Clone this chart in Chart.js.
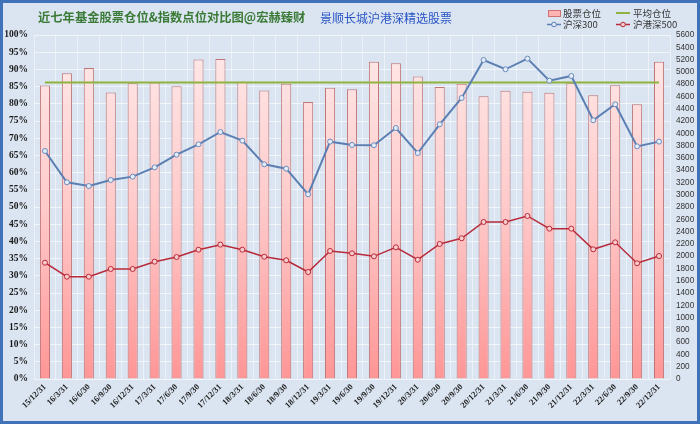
<!DOCTYPE html>
<html><head><meta charset="utf-8">
<script src="https://cdn.jsdelivr.net/npm/chart.js@4/dist/chart.umd.min.js"></script>
<style>html,body{margin:0;padding:0;background:#dbe5f1;overflow:hidden}canvas{display:block}</style>
</head><body>
<canvas id="c" width="700" height="424"></canvas>
<script>
const categories = ['15/12/31','16/3/31','16/6/30','16/9/30','16/12/31','17/3/31','17/6/30','17/9/30','17/12/31','18/3/31','18/6/30','18/9/30','18/12/31','19/3/31','19/6/30','19/9/30','19/12/31','20/3/31','20/6/30','20/9/30','20/12/31','21/3/31','21/6/30','21/9/30','21/12/31','22/3/31','22/6/30','22/9/30','22/12/31'];
const stockPosition = [85.3, 88.9, 90.4, 83.3, 86.0, 86.2, 85.1, 92.9, 93.0, 86.4, 83.9, 85.8, 80.5, 84.7, 84.2, 92.2, 91.8, 87.9, 84.9, 85.8, 82.2, 83.8, 83.5, 83.2, 86.0, 82.5, 85.4, 79.9, 92.2];
const averagePosition = [86.2, 86.2, 86.2, 86.2, 86.2, 86.2, 86.2, 86.2, 86.2, 86.2, 86.2, 86.2, 86.2, 86.2, 86.2, 86.2, 86.2, 86.2, 86.2, 86.2, 86.2, 86.2, 86.2, 86.2, 86.2, 86.2, 86.2, 86.2, 86.2];
const hs300 = [3712, 3202, 3142, 3240, 3294, 3446, 3652, 3821, 4021, 3880, 3495, 3424, 3007, 3864, 3810, 3805, 4086, 3679, 4146, 4575, 5193, 5042, 5215, 4857, 4933, 4212, 4472, 3787, 3864];
const hgs500 = [1893, 1666, 1666, 1791, 1791, 1910, 1986, 2105, 2187, 2105, 1991, 1932, 1742, 2084, 2046, 1997, 2144, 1942, 2198, 2291, 2556, 2556, 2654, 2447, 2447, 2111, 2225, 1884, 2002];
const leftAxis = {min: 0, max: 100, step: 5};
const rightAxis = {min: 0, max: 5600, step: 200};
const mainTitle = '近七年基金股票仓位&指数点位对比图@宏赫臻财';
const subTitle = '景顺长城沪港深精选股票';
const legendLabels = ['股票仓位', '平均仓位', '沪深300', '沪港深500'];

const decor = {
  id: 'decor',
  beforeDraw(chart) {
    const ctx = chart.ctx;
    ctx.save();
    ctx.fillStyle = '#dbe5f1';
    ctx.fillRect(0, 0, chart.width, chart.height);
    ctx.restore();
  },
  afterDraw(chart) {
    const ctx = chart.ctx;
    ctx.save();
    ctx.strokeStyle = '#3f72b8';
    ctx.lineWidth = 3;
    ctx.strokeRect(1.5, 1.5, chart.width - 3, chart.height - 3);
    ctx.textBaseline = 'middle';
    ctx.textAlign = 'left';
    ctx.fillStyle = '#3a7a36';
    ctx.font = 'bold 12.3px "Noto Sans CJK SC"';
    ctx.fillText(mainTitle, 38, 17);
    ctx.fillStyle = '#2a55c4';
    ctx.font = '12px "Noto Sans CJK SC"';
    ctx.fillText(subTitle, 320, 18);
    ctx.font = '9.5px "Noto Sans CJK SC"';
    ctx.fillStyle = '#ffb4b4';
    ctx.fillRect(548, 10, 12, 6);
    ctx.strokeStyle = '#d07070';
    ctx.lineWidth = 1;
    ctx.strokeRect(548.5, 10.5, 12, 6);
    ctx.fillStyle = '#333';
    ctx.fillText(legendLabels[0], 563, 13);
    ctx.strokeStyle = '#8fb33c';
    ctx.lineWidth = 2;
    ctx.beginPath(); ctx.moveTo(616, 13); ctx.lineTo(630, 13); ctx.stroke();
    ctx.fillText(legendLabels[1], 633, 13);
    ctx.strokeStyle = '#5b7fb3';
    ctx.lineWidth = 1.5;
    ctx.beginPath(); ctx.moveTo(547, 24.5); ctx.lineTo(561, 24.5); ctx.stroke();
    ctx.beginPath(); ctx.arc(554, 24.5, 2.3, 0, Math.PI * 2); ctx.fillStyle = '#e4ecf7'; ctx.fill(); ctx.lineWidth = 1; ctx.stroke();
    ctx.fillStyle = '#333';
    ctx.fillText(legendLabels[2], 563, 24.5);
    ctx.strokeStyle = '#b82a3a';
    ctx.lineWidth = 1.5;
    ctx.beginPath(); ctx.moveTo(616, 24.5); ctx.lineTo(630, 24.5); ctx.stroke();
    ctx.beginPath(); ctx.arc(623, 24.5, 2.3, 0, Math.PI * 2); ctx.fillStyle = '#f6cccc'; ctx.fill(); ctx.lineWidth = 1; ctx.stroke();
    ctx.fillStyle = '#333';
    ctx.fillText(legendLabels[3], 633, 24.5);
    ctx.restore();
  }
};

function barGradient(context) {
  const chart = context.chart;
  const area = chart.chartArea;
  if (!area) return '#ffc0c0';
  const g = chart.ctx.createLinearGradient(0, area.top, 0, area.bottom);
  g.addColorStop(0, '#ffeaea');
  g.addColorStop(0.5, '#ffcaca');
  g.addColorStop(1, '#ff9696');
  return g;
}

new Chart(document.getElementById('c'), {
  type: 'bar',
  plugins: [decor],
  data: {
    labels: categories,
    datasets: [
      {
        type: 'line', label: legendLabels[1], data: averagePosition, yAxisID: 'y',
        borderColor: '#8fb33c', borderWidth: 2, pointRadius: 0, order: 2
      },
      {
        type: 'line', label: legendLabels[2], data: hs300, yAxisID: 'y1',
        borderColor: '#5b7fb3', borderWidth: 2, pointRadius: 2.5,
        pointBackgroundColor: '#e4ecf7', pointBorderColor: '#6a8cbd', pointBorderWidth: 1,
        tension: 0, order: 1
      },
      {
        type: 'line', label: legendLabels[3], data: hgs500, yAxisID: 'y1',
        borderColor: '#b82a3a', borderWidth: 1.5, pointRadius: 2.5,
        pointBackgroundColor: '#f6cccc', pointBorderColor: '#b82a3a', pointBorderWidth: 1,
        tension: 0, order: 1
      },
      {
        type: 'bar', label: legendLabels[0], data: stockPosition, yAxisID: 'y',
        backgroundColor: barGradient, borderColor: 'rgba(190,110,110,0.95)', borderWidth: 1,
        categoryPercentage: 1, barPercentage: 0.46, order: 10
      }
    ]
  },
  options: {
    responsive: false,
    animation: false,
    events: [],
    layout: {padding: {top: 35, left: 0, right: 0, bottom: 0}},
    plugins: {legend: {display: false}, title: {display: false}, tooltip: {enabled: false}},
    scales: {
      x: {
        offset: true,
        grid: {display: true, offset: true, color: 'rgba(255,255,255,0.45)', drawTicks: false},
        border: {display: false},
        ticks: {
          autoSkip: false, maxRotation: 45, minRotation: 45, padding: 3,
          color: '#1a1a1a', font: {family: '"Liberation Serif"', weight: 'bold', size: 8.5}
        },
        afterFit(scale) { scale.height = 45; }
      },
      y: {
        position: 'left', min: leftAxis.min, max: leftAxis.max,
        grid: {color: 'rgba(255,255,255,0.6)', drawTicks: false},
        border: {display: false},
        ticks: {
          stepSize: leftAxis.step, padding: 6, color: '#1a1a1a', autoSkip: false,
          font: {family: '"Liberation Serif"', weight: 'bold', size: 9.5},
          callback: v => v + '%'
        },
        afterFit(scale) { scale.width = 34; }
      },
      y1: {
        position: 'right', min: rightAxis.min, max: rightAxis.max,
        grid: {display: false, drawTicks: false},
        border: {display: false},
        ticks: {
          stepSize: rightAxis.step, padding: 6, color: '#333', autoSkip: false,
          font: {family: '"Liberation Sans"', size: 8.2},
          callback: v => String(v)
        },
        afterFit(scale) { scale.width = 30; }
      }
    }
  }
});
</script>
</body></html>
